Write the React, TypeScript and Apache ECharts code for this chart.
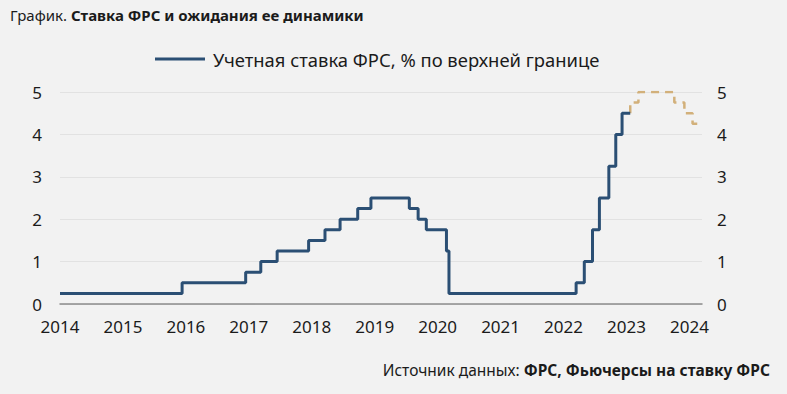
import React, { useEffect, useRef } from "react";
import * as echarts from "echarts";

// Fed funds upper bound: change dates (decimal years) and new values
const rateDates = [2014.0, 2015.94, 2016.95, 2017.19, 2017.45, 2017.95, 2018.21, 2018.45, 2018.73, 2018.94, 2019.55, 2019.69, 2019.82, 2020.14, 2020.18, 2022.2, 2022.33, 2022.46, 2022.57, 2022.72, 2022.83, 2022.93, 2023.06];
const rateValues = [0.25, 0.5, 0.75, 1.0, 1.25, 1.5, 1.75, 2.0, 2.25, 2.5, 2.25, 2.0, 1.75, 1.25, 0.25, 0.5, 1.0, 1.75, 2.5, 3.25, 4.0, 4.5, 4.5];

// Futures-implied path
const futDates = [2023.06, 2023.06, 2023.19, 2023.76, 2023.92, 2024.05, 2024.17];
const futValues = [4.5, 4.75, 5.0, 4.75, 4.5, 4.25, 4.25];

const yearTicks = [2014, 2015, 2016, 2017, 2018, 2019, 2020, 2021, 2022, 2023, 2024];
const rateTicks = [0, 1, 2, 3, 4, 5];

const FONT = "'Noto Sans', sans-serif";
const TXT = "#1b1b1b";
const SERIES_NAME = "Учетная ставка ФРС, % по верхней границе";

export default function App() {
  const ref = useRef<HTMLDivElement>(null);
  useEffect(() => {
    if (!ref.current) return;
    const chart = echarts.init(ref.current, undefined, { renderer: "svg" });
    const yAxisBase = {
      type: "value",
      min: rateTicks[0],
      max: rateTicks[rateTicks.length - 1],
      interval: 1,
      axisLine: { show: false },
      axisTick: { show: false },
      axisLabel: { color: TXT, fontSize: 17, fontFamily: FONT },
    };
    const rich = (fs: number) => ({
      n: { fontSize: fs, fontWeight: "normal", color: TXT, fontFamily: FONT },
      b: { fontSize: fs, fontWeight: "bold", color: TXT, fontFamily: FONT },
    });
    chart.setOption({
      animation: false,
      backgroundColor: "#f2f2f2",
      textStyle: { fontFamily: FONT },
      title: [
        {
          left: 10,
          top: 7,
          padding: 0,
          text: "{n|График. }{b|Ставка ФРС и ожидания ее динамики}",
          textStyle: { fontWeight: "normal", rich: rich(15) },
        },
        {
          right: 17,
          top: 362,
          padding: 0,
          text: "{n|Источник данных: }{b|ФРС, Фьючерсы на ставку ФРС}",
          textStyle: { fontWeight: "normal", rich: rich(15.5) },
        },
      ],
      legend: {
        left: 155,
        top: 50,
        padding: 0,
        itemWidth: 50,
        itemHeight: 3,
        data: [{ name: SERIES_NAME, icon: "rect" }],
        textStyle: { fontSize: 18.4, color: TXT, fontFamily: FONT, padding: [0, 0, 0, 3] },
      },
      grid: { left: 60, right: 85, top: 92, bottom: 90, containLabel: false },
      xAxis: {
        type: "value",
        min: yearTicks[0],
        max: 2024.2,
        interval: 1,
        axisLine: { show: true, lineStyle: { color: "#8c8c8c", width: 1.5 } },
        axisTick: { show: false },
        splitLine: { show: false },
        axisLabel: {
          color: TXT,
          fontSize: 17,
          fontFamily: FONT,
          margin: 14,
          formatter: (v: number) => (yearTicks.includes(Math.round(v)) && Math.abs(v - Math.round(v)) < 1e-6 ? String(Math.round(v)) : ""),
        },
      },
      yAxis: [
        {
          ...yAxisBase,
          position: "left",
          axisLabel: { ...yAxisBase.axisLabel, margin: 18 },
          splitLine: { show: true, lineStyle: { color: "#e2e2e2", width: 1 } },
        },
        {
          ...yAxisBase,
          position: "right",
          axisLabel: { ...yAxisBase.axisLabel, margin: 15 },
          splitLine: { show: false },
        },
      ],
      series: [
        {
          name: SERIES_NAME,
          type: "line",
          step: "end",
          showSymbol: false,
          symbol: "none",
          data: rateDates.map((d, i) => [d, rateValues[i]]),
          lineStyle: { color: "#2b4f74", width: 3 },
          itemStyle: { color: "#2b4f74" },
          z: 3,
        },
        {
          name: "Фьючерсы",
          type: "line",
          step: "end",
          showSymbol: false,
          symbol: "none",
          data: futDates.map((d, i) => [d, futValues[i]]),
          lineStyle: { color: "#d2b07a", width: 2.5, type: [8, 6] },
          itemStyle: { color: "#d2b07a" },
          z: 2,
        },
      ],
    });
    return () => chart.dispose();
  }, []);
  return <div ref={ref} style={{ width: 787, height: 394, position: "absolute", left: 0, top: 0 }} />;
}
